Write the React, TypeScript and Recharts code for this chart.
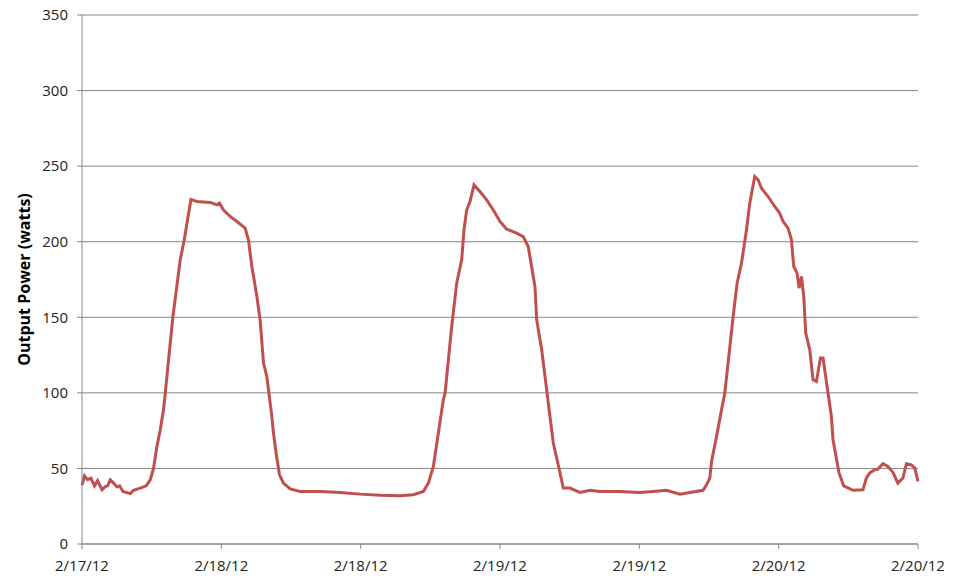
import { LineChart, Line, XAxis, YAxis, CartesianGrid } from 'recharts';

// hours since the first tick
const hours = [
  0, 0.22, 0.48, 0.77, 1.08, 1.34, 1.72, 2.01, 2.2, 2.44, 2.72, 3.01, 3.24, 3.53, 4.16, 4.44, 5.02, 5.53, 5.88,
  6.16, 6.45, 6.74, 7.02, 7.17, 7.83, 8.46, 8.8, 9.38, 9.9, 11.04, 11.62, 11.84, 12.19, 12.76, 13.34, 14.05,
  14.34, 14.63, 15.06, 15.34, 15.63, 15.92, 16.35, 16.49, 16.72, 17.01, 17.35, 17.93, 18.79, 19.93, 20.51,
  22.23, 23.95, 25.67, 27.39, 28.54, 29.4, 29.83, 30.26, 30.69, 31.12, 31.27, 31.84, 32.27, 32.7, 32.9,
  33.13, 33.42, 33.76, 34.27, 34.85, 35.42, 36.0, 36.57, 37.44, 38.0, 38.43, 39.01, 39.16, 39.59, 40.02,
  40.3, 40.59, 41.17, 41.45, 42.02, 42.88, 43.74, 44.6, 46.32, 48.04, 49.19, 50.34, 51.49, 52.35, 53.49,
  53.79, 54.07, 54.22, 54.65, 55.08, 55.36, 56.08, 56.42, 56.8, 57.23, 57.51, 57.94, 58.23, 58.52, 59.09,
  59.66, 60.09, 60.38, 60.81, 61.1, 61.3, 61.58, 61.76, 61.96, 62.16, 62.33, 62.68, 62.96, 63.25, 63.6,
  63.82, 64.05, 64.54, 64.68, 65.2, 65.6, 66.4, 67.26, 67.55, 67.84, 68.27, 68.55, 68.98, 69.41, 69.84,
  70.27, 70.7, 71.0, 71.43, 71.72, 72,
];

const power = [
  39, 45, 42.6, 43.6, 38.5, 41.9, 35.9, 38, 38.5, 42.5, 40.3, 37.7, 38.5, 34.8, 33.3, 35.5, 37, 38.5, 42.5,
  50, 64.5, 75.6, 88.8, 99.8, 150.5, 188, 201, 228, 226.6, 226, 224.4, 225.5, 221, 216.7, 213.4, 209,
  201, 183.6, 163.8, 148.3, 119.7, 110.8, 84.4, 73.4, 60, 45.8, 40.3, 36.4, 34.8, 34.8, 34.8,
  34.1, 33, 32.2, 32, 32.6, 34.8, 40.3, 51.3, 73.4, 95.4, 99.8, 143.9, 172.6, 188, 207.9,
  221, 226.6, 237.6, 233.2, 227.7, 221, 213.4, 208.3, 205.7, 203.4, 196.8, 170.4, 148.3, 128.5, 102,
  84.4, 66.8, 47, 37, 37, 34.1, 35.5, 34.8, 34.8, 34.1, 34.8, 35.5, 33, 34.1, 35.5,
  39.2, 43.6, 54.6, 71.2, 88.8, 99.8, 150.5, 172.6, 185.8, 207.9, 225.5, 243.1, 241, 235.4, 229.9,
  223.3, 218.9, 213.4, 209, 201.3, 183.6, 179.2, 169.3, 177, 163.8, 139.6, 128.5, 108.7, 107.5, 123,
  123, 110.8, 84.4, 69, 47, 38.5, 35.5, 35.9, 43.6, 47, 49.1, 49.6, 53.1, 51.3, 47.4,
  40.3, 43.6, 53.1, 52.4, 50.3, 41.4,
];

const xTicks = [0, 12, 24, 36, 48, 60, 72];
const xLabels = ['2/17/12', '2/18/12', '2/18/12', '2/19/12', '2/19/12', '2/20/12', '2/20/12'];
const yTicks = [0, 50, 100, 150, 200, 250, 300, 350];

const data = hours.map((h, i) => ({ h, power: power[i] }));

const FONT = '"Open Sans", "Liberation Sans", sans-serif';
const AXIS = '#868686';

export default function App() {
  return (
    <div style={{ position: 'absolute', left: 0, top: 0, width: 957, height: 580, background: '#fff' }}>
      <LineChart width={957} height={580} data={data} margin={{ top: 15, right: 39, bottom: 6, left: 0 }}>
        <CartesianGrid vertical={false} stroke={AXIS} strokeWidth={1} />
        <XAxis
          dataKey="h"
          type="number"
          domain={[0, 72]}
          ticks={xTicks}
          height={30}
          tickFormatter={(v: number) => xLabels[xTicks.indexOf(v)]}
          stroke={AXIS}
          tickSize={5}
          tickMargin={11}
          tick={{ fontSize: 15, fill: '#222', fontFamily: FONT }}
          interval={0}
        />
        <YAxis
          domain={[0, 350]}
          ticks={yTicks}
          width={82}
          stroke={AXIS}
          tickSize={5}
          tickMargin={9}
          tick={{ fontSize: 15, fill: '#222', fontFamily: FONT }}
          label={{
            value: 'Output Power (watts)',
            angle: -90,
            position: 'insideLeft',
            offset: 24,
            style: { fontSize: 16, fontWeight: 'bold', fill: '#000', fontFamily: FONT, textAnchor: 'middle' },
          }}
        />
        <Line
          type="linear"
          dataKey="power"
          stroke="#C0504D"
          strokeWidth={3}
          dot={false}
          isAnimationActive={false}
        />
      </LineChart>
    </div>
  );
}
